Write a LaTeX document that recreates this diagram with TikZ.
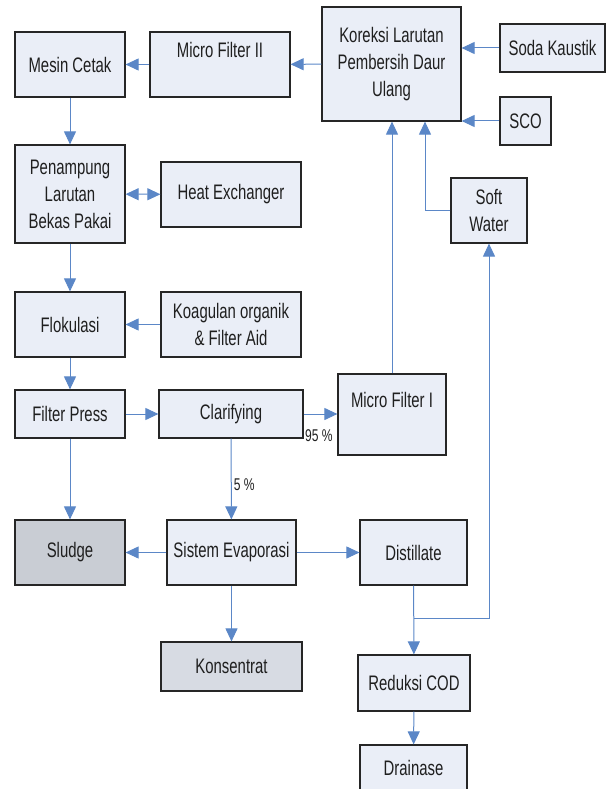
\documentclass[tikz,border=0pt]{standalone}
\usepackage{fontspec}
\setmainfont{Liberation Sans}[FakeStretch=0.71]
\usepackage{tikz}
\usetikzlibrary{positioning}
\usetikzlibrary{arrows.meta}
\usetikzlibrary{shadows}
\definecolor{boxfill}{HTML}{EAEEF7}
\definecolor{flowblue}{HTML}{5B87C7}
\tikzset{
    process diagram/.style={
            x=1pt,y=-1pt,
            font=\fontsize{21}{27}\selectfont,
            text=black!88,
            box/.style={draw=black!85,line width=1.2pt,fill=boxfill,align=center,inner sep=0pt,
                    drop shadow={shadow xshift=1.2pt,shadow yshift=-1.2pt,fill=black!40,opacity=0.6}},
            arrow/.style={draw=flowblue,line width=1pt,-{Triangle[length=13pt,width=12pt]}},
            twoway/.style={draw=flowblue,line width=1pt,{Triangle[length=13pt,width=12pt]}-{Triangle[length=13pt,width=12pt]}},
            pct/.style={font=\fontsize{17}{20}\selectfont},
            toptext/.style={text depth=29pt}
        }
    }
\begin{document}
\begin{tikzpicture}[process diagram]
    \useasboundingbox (0,0) rectangle (608,789);
    \node (mesin) [box,minimum width=110pt,minimum height=65pt] at (70,64.5) {Mesin Cetak};
    \node (mf2) [box,toptext,minimum width=140pt,minimum height=65pt] at (220,64.5) {Micro Filter II};
    \node (koreksi) [box,minimum width=139pt,minimum height=114pt] at (391.5,64) {Koreksi Larutan\\Pembersih Daur\\Ulang};
    \node (soda) [box,minimum width=105pt,minimum height=48pt] at (552.5,48) {Soda Kaustik};
    \node (sco) [box,minimum width=51pt,minimum height=48pt] at (525.5,121) {SCO};
    \node (penampung) [box,minimum width=110pt,minimum height=98pt] at (70,194) {Penampung\\Larutan\\Bekas Pakai};
    \node (heat) [box,minimum width=140pt,minimum height=65pt] at (231,194.5) {Heat Exchanger};
    \node (soft) [box,minimum width=76pt,minimum height=65pt] at (489,210.5) {Soft\\Water};
    \node (floku) [box,minimum width=110pt,minimum height=65pt] at (70,324.5) {Flokulasi};
    \node (koag) [box,minimum width=140pt,minimum height=65pt] at (231,324.5) {Koagulan organik\\\& Filter Aid};
    \node (fpress) [box,minimum width=110pt,minimum height=48pt] at (70,414) {Filter Press};
    \node (clarif) [box,minimum width=144pt,minimum height=48pt] at (231,414) {Clarifying};
    \node (mf1) [box,toptext,minimum width=108pt,minimum height=81pt] at (392,414.5) {Micro Filter I};
    \node (sludge) [box,fill=black!14!boxfill,minimum width=110pt,minimum height=65pt] at (70,552.5) {Sludge};
    \node (evap) [box,minimum width=129pt,minimum height=65pt] at (231.5,552.5) {Sistem Evaporasi};
    \node (distil) [box,minimum width=107pt,minimum height=65pt] at (413.5,552.5) {Distillate};
    \node (konsen) [box,fill=black!8!boxfill,minimum width=141pt,minimum height=49pt] at (231.5,666.5) {Konsentrat};
    \node (reduksi) [box,minimum width=112pt,minimum height=56pt] at (414,683) {Reduksi COD};
    \node (drain) [box,minimum width=107pt,minimum height=46pt] at (413.5,768) {Drainase};
    \coordinate (split) at (414,618);
    \draw [arrow] (koreksi) -- (mf2);
    \draw [arrow] (mf2) -- (mesin);
    \draw [arrow] (soda.west) -- (soda.west -| koreksi.east);
    \draw [arrow] (sco.west) -- (sco.west -| koreksi.east);
    \draw [arrow] (mesin) -- (penampung);
    \draw [twoway] (penampung) -- (heat);
    \draw [arrow] (penampung) -- (floku);
    \draw [arrow] (koag) -- (floku);
    \draw [arrow] (floku) -- (fpress);
    \draw [arrow] (fpress) -- (clarif);
    \draw [arrow] (fpress) -- (sludge);
    \draw [arrow] (clarif) -- (clarif -| mf1.west) node [pct,pos=0,below right,inner sep=1pt,yshift=-14pt] {95 \%};
    \draw [arrow] (clarif) -- (evap) node [pct,pos=0.57,right,inner sep=2pt] {5 \%};
    \draw [arrow] (mf1) -- (mf1 |- koreksi.south);
    \draw [arrow] (soft.west) -| ([xshift=33.5pt]koreksi.south);
    \draw [arrow] (evap) -- (sludge);
    \draw [arrow] (evap) -- (distil);
    \draw [arrow] (evap) -- (konsen);
    \draw [arrow] (distil) -- (reduksi);
    \draw [arrow] (split) -| (soft.south);
    \draw [arrow] (reduksi) -- (drain);
\end{tikzpicture}
\end{document}
